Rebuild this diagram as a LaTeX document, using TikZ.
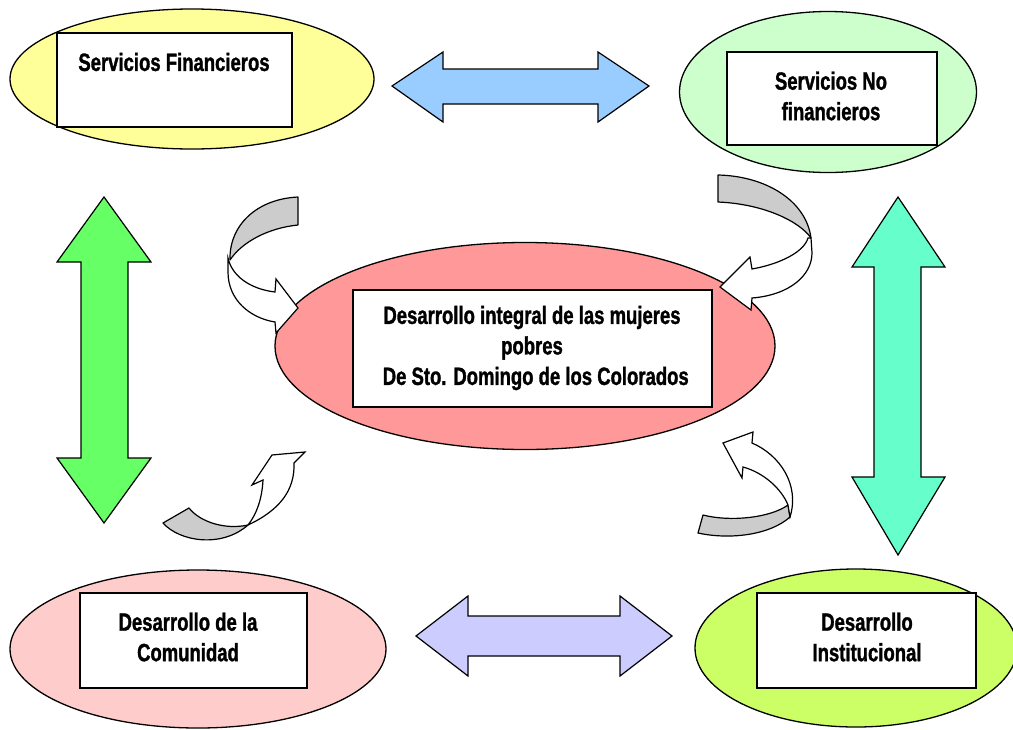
\documentclass[tikz,border=0pt]{standalone}
\usepackage{fontspec}
\setmainfont{Liberation Sans}[FakeStretch=0.74, BoldFeatures={FakeBold=1.2}]
\usetikzlibrary{shapes.geometric}
\definecolor{cyel}{HTML}{FFFF99}
\definecolor{cgrn}{HTML}{CCFFCC}
\definecolor{cred}{HTML}{FF9999}
\definecolor{cpnk}{HTML}{FFCCCC}
\definecolor{clim}{HTML}{CCFF66}
\definecolor{cblu}{HTML}{99CCFF}
\definecolor{cpur}{HTML}{CCCCFF}
\definecolor{cgar}{HTML}{66FF66}
\definecolor{ctea}{HTML}{66FFCC}
\definecolor{cgry}{HTML}{CCCCCC}
\tikzset{
  oval/.style={ellipse, draw=black, line width=1.3pt, inner sep=0pt},
  textbox/.style={draw=black, fill=white, line width=1.5pt, inner sep=0pt},
  lbl/.style={font=\bfseries\fontsize{25}{30.5}\selectfont, align=center, inner sep=0pt},
  blockarrow/.style={draw=black, line width=1.2pt, line join=miter},
  curvgrey/.style={draw=black, fill=cgry, line width=1.2pt, line join=round},
  curvwhite/.style={draw=black, fill=white, line width=1.2pt, line join=miter},
}
\begin{document}
\begin{tikzpicture}[x=1pt,y=-1pt]
\useasboundingbox (0,0) rectangle (1013,729);
% ellipses
\node[oval, fill=cyel, minimum width=364pt, minimum height=140pt] (e1) at (192,79) {};
\node[oval, fill=cgrn, minimum width=297pt, minimum height=161pt] (e2) at (828,92) {};
\node[oval, fill=cred, minimum width=500pt, minimum height=207pt] (e3) at (525,346) {};
\node[oval, fill=cpnk, minimum width=376pt, minimum height=158pt] (e4) at (198,649) {};
\node[oval, fill=clim, minimum width=322pt, minimum height=158pt] (e5) at (856,648) {};
% boxes
\node[textbox, minimum width=235pt, minimum height=94pt] (b1) at (174.5,80) {};
\node[textbox, minimum width=210pt, minimum height=93pt] (b2) at (832,98.5) {};
\node[textbox, minimum width=359pt, minimum height=117pt] (b3) at (532.5,348.5) {};
\node[textbox, minimum width=227pt, minimum height=95pt] (b4) at (193.5,640.5) {};
\node[textbox, minimum width=219pt, minimum height=95pt] (b5) at (866.5,640.5) {};
% labels
\node[lbl] (t1) at (174,62) {Servicios Financieros};
\node[lbl] (t2) at (831,96) {Servicios No\\financieros};
\node[lbl] (t3) at (532,348) {Desarrollo integral de las mujeres\\pobres\\\hspace{0.3em}De Sto. Domingo de los Colorados};
\node[lbl] (t4) at (188,637) {Desarrollo de la\\Comunidad};
\node[lbl] (t5) at (867,637) {Desarrollo\\Institucional};
% block arrows
\draw[blockarrow, fill=cblu] (392,86) -- (443,52) -- (443,69) -- (598,69) -- (598,52) -- (649,86) -- (598,122) -- (598,104) -- (443,104) -- (443,122) -- cycle;
\draw[blockarrow, fill=cpur] (416,636) -- (468,596) -- (468,616) -- (620,616) -- (620,596) -- (672,636) -- (620,676) -- (620,656) -- (468,656) -- (468,676) -- cycle;
\draw[blockarrow, fill=cgar] (104,197) -- (151,262) -- (128,262) -- (128,458) -- (151,458) -- (104,523) -- (57,458) -- (81,458) -- (81,262) -- (57,262) -- cycle;
\draw[blockarrow, fill=ctea] (898,197) -- (945,267) -- (921,267) -- (921,477) -- (945,477) -- (898,555) -- (852,477) -- (874,477) -- (874,267) -- (852,267) -- cycle;
% curved arrow top-left
\draw[curvgrey] (298,197) -- (298,225) .. controls (268,228) and (242,242) .. (230,260) .. controls (229,226) and (256,199) .. (298,197) -- cycle;
\draw[curvwhite] (228,258) .. controls (232,276) and (250,289) .. (275,292) -- (276,279) -- (298,308) -- (276,333) -- (275,322) .. controls (250,318) and (228,300) .. (228,272) -- cycle;
% curved arrow top-right
\draw[curvgrey] (718,175) .. controls (765,176) and (806,200) .. (811,238) .. controls (800,222) and (765,204) .. (718,202) -- cycle;
\draw[curvwhite] (811,238) -- (812,253) .. controls (812,275) and (790,295) .. (752,298) -- (751,310) -- (720,287) -- (750,257) -- (752,269) .. controls (780,264) and (804,252) .. (808,238) -- cycle;
% curved arrow bottom-left
\draw[curvgrey] (163,523) -- (189,508) .. controls (200,522) and (225,530) .. (248,525) .. controls (222,548) and (180,542) .. (163,523) -- cycle;
\draw[curvwhite] (248,525) .. controls (280,510) and (295,490) .. (294,463) -- (305,452) -- (272,455) -- (252,485) -- (263,480) .. controls (262,500) and (256,515) .. (248,525) -- cycle;
% curved arrow bottom-right
\draw[curvgrey] (703,515) .. controls (730,522) and (770,518) .. (788,505) -- (790,517) .. controls (770,535) and (730,540) .. (698,533) -- cycle;
\draw[curvwhite] (788,505) .. controls (782,490) and (765,473) .. (743,467) -- (742,478) -- (723,443) -- (753,432) -- (752,443) .. controls (780,455) and (800,485) .. (790,517) -- cycle;
\end{tikzpicture}
\end{document}
